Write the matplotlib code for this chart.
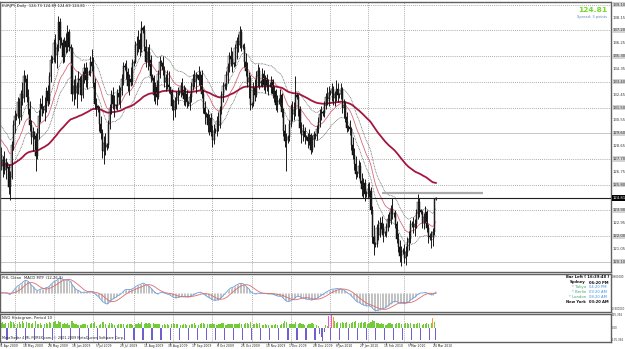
import numpy as np
import pandas as pd
import matplotlib
matplotlib.use("Agg")
import matplotlib.pyplot as plt
import matplotlib.transforms as mtransforms

# EURJPY daily bars (one row = one week, Sun..Fri)
first_open = 127.9
closes = [
    127.2, 127.6, 126.9, 127.4,
    127.1, 125.6, 126.4, 128.7, 130.2, 130.9,
    130.9, 131.9, 130.8, 132.5, 132.2, 133.8,
    133.6, 132.3, 131.4, 130.2, 129.3, 129.7,
    129.4, 127.9, 129.6, 130.9, 131.8, 131.4,
    131.3, 131.6, 132.7, 132.0, 133.8, 135.0,
    135.1, 136.3, 135.4, 135.9, 137.8, 136.5,
    136.3, 135.2, 136.4, 136.0, 137.1, 136.0,
    135.9, 132.5, 133.1, 132.6, 133.0, 133.6,
    133.5, 132.4, 133.9, 134.4, 133.5, 134.1,
    134.1, 134.9, 134.6, 133.3, 131.8, 131.6,
    131.4, 130.3, 129.6, 128.3, 128.9, 128.6,
    128.7, 130.3, 131.5, 132.4, 131.8, 131.6,
    131.7, 132.6, 132.3, 132.8, 133.6, 134.6,
    134.5, 134.1, 133.1, 133.6, 133.4, 134.8,
    134.9, 136.1, 136.2, 136.5, 135.8, 137.4,
    137.2, 136.0, 134.9, 135.6, 135.0, 133.8,
    133.7, 132.4, 133.0, 132.3, 134.0, 134.9,
    134.8, 134.3, 133.4, 133.7, 133.2, 133.0,
    132.7, 131.6, 131.3, 132.0, 132.2, 132.6,
    132.6, 133.1, 132.8, 132.1, 132.5, 131.9,
    131.8, 132.3, 133.1, 133.6, 133.4, 133.9,
    133.9, 133.5, 133.9, 132.5, 131.5, 131.0,
    131.0, 130.2, 130.7, 129.7, 129.1, 129.8,
    129.8, 130.5, 130.2, 131.3, 132.4, 133.1,
    133.2, 133.9, 134.5, 135.3, 135.1, 134.7,
    134.8, 135.9, 136.4, 136.1, 137.1, 136.0,
    136.0, 134.9, 134.2, 133.4, 133.7, 131.7,
    131.8, 133.0, 132.4, 133.8, 134.2, 133.3,
    133.4, 134.0, 133.2, 133.7, 133.0, 133.2,
    133.2, 133.5, 132.5, 132.7, 131.7, 132.0,
    132.0, 132.4, 131.2, 129.8, 129.0, 129.2,
    129.3, 130.3, 131.5, 131.0, 131.3, 132.4,
    132.3, 131.4, 130.0, 129.5, 129.8, 129.3,
    129.3, 129.0, 129.5, 128.4, 129.2, 129.5,
    129.4, 129.9, 130.4, 131.0, 131.2,
    131.1, 131.7, 132.3, 132.1, 132.6,
    132.6, 132.9, 132.2, 132.5, 132.9, 132.4,
    132.5, 132.8, 131.5, 131.7, 130.8, 130.0,
    130.1, 129.9, 128.7, 128.0, 127.3, 126.6,
    126.7, 127.2, 126.1, 125.5, 125.9, 125.1,
    125.2, 125.5, 125.3, 123.9, 121.9, 121.4,
    121.4, 122.6, 122.1, 123.0, 122.5, 122.2,
    122.2, 122.7, 123.3, 123.1, 124.0, 123.6,
    123.6, 122.9, 121.8, 121.2, 120.5, 120.9,
    120.9, 120.4, 120.8, 121.6, 121.8, 122.9,
    122.9, 122.7, 122.9, 123.7, 124.5, 123.9,
    123.8, 123.0, 123.4, 123.8, 122.6, 122.0,
    121.9, 121.9, 122.3, 124.73, 124.81,
]
highs = [
    128.6, 127.9, 128.3, 127.8,
    127.5, 127.3, 126.8, 129.0, 130.6, 131.3,
    131.1, 132.3, 132.2, 132.8, 133.4, 134.3,
    133.9, 134.0, 132.9, 132.0, 130.6, 130.1,
    129.8, 129.6, 130.0, 131.3, 132.2, 132.4,
    131.6, 132.3, 133.0, 133.2, 134.1, 135.4,
    135.3, 136.6, 136.9, 136.2, 138.3, 138.1,
    136.7, 136.6, 136.7, 137.0, 137.6, 137.3,
    136.2, 136.0, 133.6, 133.9, 133.4, 134.2,
    133.8, 133.9, 134.2, 134.8, 134.9, 134.5,
    134.3, 135.3, 135.8, 135.2, 133.7, 132.2,
    131.7, 131.6, 130.9, 129.9, 129.4, 129.6,
    128.9, 130.6, 131.8, 132.8, 133.0, 132.4,
    131.8, 132.9, 133.2, 133.0, 134.0, 134.9,
    134.8, 135.0, 134.4, 134.0, 134.5, 135.1,
    135.0, 136.4, 136.8, 137.2, 137.0, 137.9,
    137.5, 137.6, 136.6, 136.0, 136.2, 135.4,
    134.0, 133.9, 133.4, 133.5, 134.3, 135.3,
    135.0, 135.3, 134.6, 134.0, 134.3, 134.2,
    133.0, 132.9, 132.1, 132.3, 132.7, 133.0,
    132.8, 133.4, 133.7, 133.2, 133.0, 132.8,
    132.0, 132.6, 133.4, 134.0, 134.3, 134.1,
    134.0, 134.6, 134.2, 134.3, 132.9, 132.0,
    131.2, 131.4, 131.0, 131.1, 130.2, 130.3,
    130.0, 130.9, 131.2, 131.6, 132.7, 133.4,
    133.3, 134.2, 134.8, 135.6, 136.0, 135.7,
    134.9, 136.2, 136.7, 136.9, 137.5, 137.3,
    136.2, 136.3, 135.5, 134.9, 134.1, 133.9,
    131.9, 133.4, 133.6, 134.2, 134.7, 134.5,
    133.5, 134.4, 134.3, 133.9, 134.0, 133.6,
    133.4, 133.8, 133.6, 133.1, 132.9, 132.4,
    132.2, 132.9, 132.6, 131.5, 130.3, 129.6,
    129.5, 130.6, 131.8, 132.0, 131.9, 133.8,
    132.6, 132.5, 131.6, 130.4, 130.3, 130.1,
    129.5, 129.6, 129.9, 129.6, 129.5, 129.8,
    129.6, 130.2, 130.8, 131.4, 131.6,
    131.3, 132.0, 132.6, 133.0, 133.1,
    132.8, 133.3, 133.1, 132.7, 133.5, 133.3,
    132.6, 133.3, 133.0, 132.1, 132.0, 131.2,
    130.2, 130.6, 130.1, 129.3, 128.5, 127.9,
    126.8, 127.6, 127.5, 126.7, 126.3, 126.2,
    125.3, 125.9, 126.0, 125.6, 124.2, 122.8,
    121.6, 122.9, 123.2, 123.4, 123.5, 123.0,
    122.4, 123.0, 123.6, 123.8, 124.3, 124.8,
    123.8, 123.9, 123.1, 122.2, 121.7, 121.3,
    121.1, 121.4, 121.3, 121.9, 122.4, 123.2,
    123.1, 123.4, 123.3, 124.0, 125.1, 124.8,
    124.0, 123.9, 123.7, 124.2, 123.9, 122.9,
    122.2, 122.4, 122.6, 124.8, 124.89,
]
lows = [
    126.9, 126.4, 126.6, 126.2,
    127.0, 125.1, 124.7, 126.2, 128.4, 129.6,
    130.6, 130.7, 130.3, 130.6, 131.7, 131.9,
    133.4, 131.9, 131.0, 129.8, 128.8, 128.3,
    129.2, 126.8, 127.7, 129.2, 130.4, 130.9,
    131.1, 130.5, 131.2, 131.6, 131.8, 133.4,
    134.8, 134.9, 134.8, 134.4, 135.7, 135.9,
    136.1, 134.8, 134.9, 135.5, 135.6, 135.7,
    135.6, 132.0, 131.7, 132.1, 131.5, 132.5,
    133.3, 132.0, 132.2, 133.3, 133.0, 132.9,
    133.9, 133.8, 134.2, 133.0, 131.4, 130.9,
    131.2, 129.8, 129.2, 127.8, 127.3, 128.0,
    128.4, 128.5, 129.9, 131.0, 131.4, 130.8,
    131.4, 131.3, 131.8, 131.5, 132.4, 133.2,
    134.3, 133.6, 132.7, 132.4, 133.1, 133.2,
    134.6, 134.8, 135.4, 135.6, 135.3, 135.6,
    137.0, 135.7, 134.5, 134.3, 134.6, 133.4,
    133.5, 132.0, 131.8, 131.7, 132.1, 133.7,
    134.6, 133.9, 133.0, 132.7, 132.9, 132.6,
    132.5, 131.3, 130.6, 130.8, 131.4, 131.8,
    132.4, 132.3, 132.4, 131.7, 131.6, 131.5,
    131.6, 131.3, 131.9, 132.8, 133.0, 132.6,
    133.7, 133.2, 132.8, 132.2, 131.1, 130.3,
    130.8, 129.7, 129.5, 129.4, 128.6, 128.8,
    129.6, 129.4, 129.8, 130.0, 131.0, 131.9,
    132.9, 132.8, 133.3, 134.1, 134.6, 134.1,
    134.5, 134.6, 135.1, 135.6, 135.9, 135.7,
    135.8, 134.5, 133.8, 133.0, 132.2, 131.3,
    131.5, 131.6, 132.0, 132.3, 133.1, 132.9,
    133.1, 133.0, 132.8, 132.6, 132.7, 132.4,
    133.0, 132.6, 132.2, 131.9, 131.3, 131.2,
    131.8, 131.6, 130.8, 129.4, 128.6, 126.8,
    128.9, 129.0, 130.1, 130.5, 130.6, 130.9,
    132.1, 130.9, 129.6, 128.9, 129.0, 128.8,
    129.1, 128.5, 128.7, 128.1, 128.2, 128.6,
    129.2, 129.1, 129.6, 130.1, 130.6,
    130.9, 130.8, 131.4, 131.7, 131.6,
    132.4, 132.0, 131.7, 131.6, 132.0, 131.9,
    132.2, 132.1, 131.1, 130.7, 130.4, 129.7,
    129.8, 129.5, 128.4, 127.7, 126.9, 126.2,
    126.4, 126.3, 125.9, 125.0, 124.8, 124.6,
    124.9, 124.8, 124.9, 123.6, 121.5, 120.6,
    121.2, 121.2, 121.7, 121.9, 122.1, 121.6,
    122.0, 121.9, 122.4, 122.7, 122.9, 123.3,
    123.4, 122.6, 121.5, 120.8, 120.1, 119.8,
    120.7, 120.0, 119.9, 120.5, 121.0, 121.5,
    122.7, 122.2, 122.0, 122.6, 123.3, 123.4,
    123.6, 122.6, 122.5, 123.0, 122.3, 121.5,
    121.7, 121.1, 121.3, 122.1, 124.69,
]
# NVO histogram (Period 10)
nvo = [
    48, 62, 40, 55,
    -118, 52, 70, 58, 64, 38,
    -120, 45, 58, 42, 66, 50,
    -116, 60, 48, 55, 40, 46,
    -122, 70, 44, 38, 52, 30,
    -119, 36, 48, 40, 62, 55,
    -121, 58, 66, 45, 72, 60,
    -117, 42, 50, 38, 46, 35,
    -118, 75, 52, 40, 44, 32,
    -120, 30, 42, 38, 45, 28,
    -116, 40, 52, 48, 56, 25,
    -122, 35, 45, 60, 58, 40,
    -119, 28, 46, 50, 42, 30,
    -117, 32, 38, 44, 40, 36,
    -120, 30, 45, 42, 38, 34,
    -118, 40, 36, 48, 44, 62,
    -121, 38, 52, 40, 46, 42,
    -119, 48, 36, 42, 38, 45,
    -118, 30, 40, 35, 42, 33,
    -120, 45, 50, 38, 36, 40,
    -117, 28, 35, 40, 38, 30,
    -119, 32, 44, 38, 46, 35,
    -121, 30, 38, 52, 48, 40,
    -118, 42, 36, 45, 50, 44,
    -120, 35, 40, 38, 46, 52,
    -117, 30, 42, 45, 40, 36,
    -119, 38, 44, 40, 55, 42,
    -120, 36, 48, 50, 45, 58,
    -118, 40, 38, 46, 42, 50,
    -121, 30, 35, 38, 33, 28,
    -119, 26, 34, 30, 38, 32,
    -120, 30, 42, 55, 68, 60,
    -117, 45, 40, 38, 36, 62,
    -119, 40, 48, 44, 38, 35,
    -118, 32, 38, 45, 50, 36,
    -122, 28, 20, -60, -85,
    -125, -40, 30, 25, 125,
    -118, 128, 108, 70, 55, 60,
    -120, 50, 62, 48, 55, 58,
    -118, 40, 52, 60, 65, 70,
    -121, 48, 55, 60, 52, 58,
    -119, 45, 50, 62, 80, 72,
    -120, 55, 48, 45, 50, 40,
    -118, 35, 42, 46, 50, 38,
    -119, 40, 48, 55, 52, 45,
    -121, 42, 50, 46, 40, 48,
    -118, 38, 44, 40, 52, 46,
    -120, 35, 42, 45, 50, 40,
    -122, 48, 105, 62, -120,
]
date_labels = ["21 Apr 2009", "10 May 2009", "28 May 2009", "16 Jun 2009", "5 Jul 2009",
               "23 Jul 2009", "11 Aug 2009", "30 Aug 2009", "17 Sep 2009", "6 Oct 2009",
               "25 Oct 2009", "13 Nov 2009", "1 Dec 2009", "20 Dec 2009", "8 Jan 2010",
               "27 Jan 2010", "15 Feb 2010", "5 Mar 2010", "24 Mar 2010"]
price_labels = [119.15, 120.10, 121.05, 122.00, 122.95, 123.90, 124.85, 125.80, 126.75,
                127.70, 128.65, 129.60, 130.55, 131.50, 132.45, 133.40, 134.35, 135.30,
                136.25, 137.20, 138.15, 139.10]
grid_levels = [120.10, 122.00, 123.90, 125.80, 127.70, 129.60, 131.50, 133.40, 135.30,
               137.20, 139.10]
solid_levels = [120.10, 129.60]
resist_level = 125.2
resist_bars = (252, 319)
ma_long_seed = 127.3
ma_short_seed = 129.3
sessions = [("Sydney", "06:20 PM"), ("* Tokyo", "04:20 PM"), ("* Berlin", "09:20 AM"),
            ("* London", "08:20 AM"), ("New York", "03:20 AM")]

# trading days (Sunday bars included, no Saturday, no Xmas/New year)
days = pd.date_range("2009-04-21", "2010-03-25", freq="D")
days = days[(days.dayofweek != 5) & ~days.isin(pd.to_datetime(["2009-12-25", "2010-01-01"]))]
n = min(len(days), len(closes))
days = days[:n]
c = np.array(closes[:n])
o = np.array([first_open] + closes[:n - 1])
h = np.maximum(np.array(highs[:n]), np.maximum(o, c))
l = np.minimum(np.array(lows[:n]), np.minimum(o, c))
v = np.array(nvo[:n], dtype=float)
x = np.arange(n)


def ema(vals, period, seed):
    a = 2.0 / (period + 1)
    out, prev = [], seed
    for val in vals:
        prev = prev + a * (val - prev)
        out.append(prev)
    return np.array(out)


ma_long = ema(c, 100, ma_long_seed)
ma_short = ema(c, 21, ma_short_seed)
band_up = ma_short * 1.008
band_dn = ma_short * 0.992
macd = ema(c, 12, c[0]) - ema(c, 26, c[0])
signal = pd.Series(macd).rolling(9, min_periods=1).mean().values

month_starts = [i for i in range(1, n) if days[i].month != days[i - 1].month]

W, H = 625.0, 349.0
fig = plt.figure(figsize=(6.25, 3.49), dpi=100)
fig.patch.set_facecolor("white")


def panel(top, bottom):
    return fig.add_axes([0, 1 - bottom / H, 611 / W, (bottom - top) / H])


ax = panel(2, 272)
axm = panel(274, 312)
axn = panel(314, 342)
xlim = (-0.7, 404)
for a in (ax, axm, axn):
    a.set_xlim(*xlim)
    a.set_xticks([])
    a.set_yticks([])
    for s in a.spines.values():
        s.set_color("#606060")
        s.set_linewidth(1.0)
    for m in month_starts:
        a.axvline(m, color="#909090", lw=0.6, ls=(0, (1, 1.5)), zorder=0)

# main price panel
ax.set_ylim(119.35, 139.30)
for g in grid_levels:
    if g in solid_levels:
        ax.axhline(g, color="#c8c8c8", lw=0.7, zorder=0)
    else:
        ax.axhline(g, color="#909090", lw=0.6, ls=(0, (1, 1.5)), zorder=0)

ax.plot(x, band_up, color="#555555", lw=0.55, ls=(0, (1, 1)))
ax.plot(x, band_dn, color="#555555", lw=0.55, ls=(0, (1, 1)))
ax.plot(x, ma_short, color="#d86a78", lw=0.6)
ax.plot(x, ma_long, color="#a3173f", lw=1.3)

ax.vlines(x, l, h, color="#1a1a1a", lw=0.7)
up = c >= o
ax.bar(x[up], (c - o)[up], bottom=o[up], width=0.8, color="white",
       edgecolor="#1a1a1a", linewidth=0.35)
ax.bar(x[~up], (o - c)[~up], bottom=c[~up], width=0.8, color="#111111",
       edgecolor="#111111", linewidth=0.35)

ax.hlines(resist_level, resist_bars[0], resist_bars[1], color="#aaaaaa", lw=1.6)
ax.axhline(c[-1], color="#202020", lw=0.8)

fs = 2.7
ax.text(0.004, 0.992, "EURJPY,Daily  %.2f %.2f %.2f %.2f" % (o[-1], h[-1], l[-1], c[-1]),
        transform=ax.transAxes, ha="left", va="top", fontsize=fs, color="#222222")

tr = mtransforms.blended_transform_factory(ax.transAxes, ax.transData)
for p in price_labels:
    if abs(p - c[-1]) < 0.5 or p < 119.2:
        continue
    box = dict(boxstyle="square,pad=0.15", fc="#d4d4d4", ec="none") if p in grid_levels else None
    ax.text(1.003, p, "%.2f" % p, transform=tr, ha="left", va="center",
            fontsize=fs, color="#333333", bbox=box, clip_on=False)
ax.text(1.003, c[-1], "%.2f" % c[-1], transform=tr, ha="left", va="center",
        fontsize=fs, color="white", clip_on=False,
        bbox=dict(boxstyle="square,pad=0.2", fc="black", ec="none"))

fig.text(607 / W, 1 - 10 / H, "%.2f" % c[-1], ha="right", va="center",
         fontsize=5.4, fontweight="bold", color="#74d92b")
fig.text(607 / W, 1 - 17 / H, "Spread: 3 points", ha="right", va="center",
         fontsize=2.6, color="#5b86c0")

# MACD panel
mm = np.abs(macd).max() * 1.08
axm.set_ylim(-mm, mm)
axm.vlines(x, 0, macd, color="#a8a8a8", lw=0.5)
axm.plot(x, macd, color="#6a9fe0", lw=0.6)
axm.plot(x, signal, color="#e06a6a", lw=0.6)
axm.text(0.004, 0.95, "PHL Clean", transform=axm.transAxes, ha="left", va="top",
         fontsize=fs, color="#222222")
axm.text(0.04, 0.95, "MACD MTF (12,26,9)", transform=axm.transAxes, ha="left", va="top",
         fontsize=fs, color="#222222")
side = 2.0
fig.text(611.5 / W, 1 - 277 / H, "0.900000", ha="left", va="center", fontsize=side, color="#333333")
fig.text(611.5 / W, 1 - 309 / H, "-0.900000", ha="left", va="center", fontsize=side - 0.1,
         color="#333333")

fig.text(609 / W, 1 - 277 / H, "Bar Left [ 16:39:48 ]", ha="right", va="center",
         fontsize=fs, fontweight="bold", color="#111111")
for k, (city, t) in enumerate(sessions):
    yy = 1 - (282.5 + 4.9 * k) / H
    black = not city.startswith("*")
    fig.text(586 / W, yy, city, ha="right", va="center", fontsize=fs,
             fontweight="bold" if black else "normal", color="#111111" if black else "#3aa66a")
    fig.text(589 / W, yy, t, ha="left", va="center", fontsize=fs,
             fontweight="bold" if black else "normal", color="#111111" if black else "#3f8fe8")

# NVO histogram panel
axn.set_ylim(-140, 140)
cols = ["#ee55cc" if val >= 115 else "#ff9a30" if val >= 95 else
        "#72cc3a" if val > 0 else "#6f5fd0" for val in v]
axn.bar(x, v, width=0.8, color=cols, linewidth=0)
axn.text(0.004, 0.93, "NVO Histogram, Period 10", transform=axn.transAxes, ha="left",
         va="top", fontsize=fs, color="#222222")
axn.text(0.004, 0.06, "MetaTrader 4 ML FOREX.com, \u00a9 2001-2009 MetaQuotes Software Corp.",
         transform=axn.transAxes, ha="left", va="bottom", fontsize=2.4, color="#222222")
fig.text(611.5 / W, 1 - 315.5 / H, "135.392", ha="left", va="center", fontsize=side, color="#333333")
fig.text(611.5 / W, 1 - 328 / H, "0.00", ha="left", va="center", fontsize=side, color="#333333")
fig.text(611.5 / W, 1 - 340 / H, "-135.392", ha="left", va="center", fontsize=side, color="#333333")

# date axis
tick_pos = [days.get_loc(pd.to_datetime(d, format="%d %b %Y")) for d in date_labels]
axn.set_xticks(tick_pos)
axn.tick_params(axis="x", length=2, width=0.5, colors="#555555", labelbottom=False)
trd = mtransforms.blended_transform_factory(axn.transData, fig.transFigure)
for pos, lab in zip(tick_pos, date_labels):
    axn.text(pos - 1.2, 1 - 345.8 / H, lab, transform=trd, ha="left", va="center",
             fontsize=2.2, color="#222222", clip_on=False)

fig.savefig("out.png", dpi=100, facecolor="white")
